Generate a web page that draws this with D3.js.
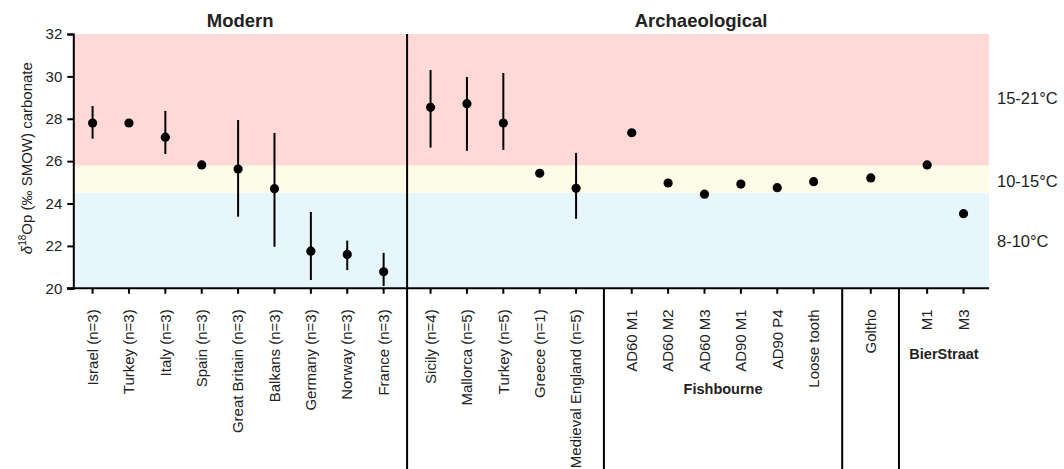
<!DOCTYPE html>
<html>
<head>
<meta charset="utf-8">
<script src="https://cdn.jsdelivr.net/npm/d3@7"></script>
<style>
  html, body { margin: 0; padding: 0; background: #fff; }
  svg { display: block; font-family: "Liberation Sans", Arial, sans-serif; }
</style>
</head>
<body>
<svg id="chart" width="1064" height="469"></svg>
<script>
// ---- data ----
const categories = [
  "Israel (n=3)", "Turkey (n=3)", "Italy (n=3)", "Spain (n=3)", "Great Britain (n=3)",
  "Balkans (n=3)", "Germany (n=3)", "Norway (n=3)", "France (n=3)",
  "Sicily (n=4)", "Mallorca (n=5)", "Turkey (n=5)", "Greece (n=1)", "Medieval England (n=5)",
  "AD60 M1", "AD60 M2", "AD60 M3", "AD90 M1", "AD90 P4", "Loose tooth",
  "Goltho",
  "M1", "M3"
];
const groups = [
  "Modern", "Modern", "Modern", "Modern", "Modern", "Modern", "Modern", "Modern", "Modern",
  "Archaeological", "Archaeological", "Archaeological", "Archaeological", "Archaeological",
  "Fishbourne", "Fishbourne", "Fishbourne", "Fishbourne", "Fishbourne", "Fishbourne",
  "Goltho",
  "BierStraat", "BierStraat"
];
const means = [
  27.80, 27.80, 27.13, 25.82, 25.63, 24.70, 21.75, 21.60, 20.78,
  28.54, 28.71, 27.80, 25.43, 24.72,
  27.34, 24.97, 24.44, 24.92, 24.75, 25.03,
  25.21,
  25.82, 23.52
];
const errHigh = [
  28.60, null, 28.37, null, 27.94, 27.33, 23.60, 22.25, 21.67,
  30.30, 29.97, 30.16, null, 26.39,
  null, null, null, null, null, null,
  null,
  null, null
];
const errLow = [
  27.06, null, 26.34, null, 23.38, 21.96, 20.39, 20.86, 20.11,
  26.64, 26.49, 26.53, null, 23.28,
  null, null, null, null, null, null,
  null,
  null, null
];
const yTicks = [20, 22, 24, 26, 28, 30, 32];
const bandBreaks = [20, 24.5, 25.8, 32];
const bandLabels = ["8-10°C", "10-15°C", "15-21°C"];
const headerLabels = ["Modern", "Archaeological"];
const subGroupLabels = ["Fishbourne", "BierStraat"];

// ---- layout ----
const svg = d3.select("#chart");
const plotLeft = 73.3, plotRight = 989, plotTop = 34, plotBottom = 288.3;
const groupGap = { Archaeological: 0.29, Fishbourne: 0.53, Goltho: 0.57, BierStraat: 0.55 };

const slots = [];
let acc = 0;
categories.forEach((c, i) => {
  if (i > 0 && groups[i] !== groups[i - 1]) acc += groupGap[groups[i]];
  slots.push(i + acc);
});

const x = d3.scaleLinear()
  .domain([-0.53, slots[slots.length - 1] + 0.70])
  .range([plotLeft, plotRight]);
const y = d3.scaleLinear().domain([20, 32]).range([plotBottom, plotTop]);

// bands
const bandColors = ["#e7f6fb", "#fdfde7", "#ffd8d8"];
const bands = d3.range(bandLabels.length).map(i => ({
  lo: bandBreaks[i], hi: bandBreaks[i + 1], label: bandLabels[i], color: bandColors[i]
}));
svg.append("g").selectAll("rect").data(bands).join("rect")
  .attr("x", plotLeft)
  .attr("width", plotRight - plotLeft)
  .attr("y", d => y(d.hi))
  .attr("height", d => y(d.lo) - y(d.hi))
  .attr("fill", d => d.color);

// band labels
const bandLabelY = { "15-21°C": 28.95, "10-15°C": 25.05, "8-10°C": 22.2 };
svg.append("g").selectAll("text").data(bands).join("text")
  .attr("x", 997)
  .attr("y", d => y(bandLabelY[d.label]))
  .attr("dy", "0.35em")
  .attr("font-size", 16.5)
  .attr("fill", "#222")
  .text(d => d.label);

// group boundaries
const boundaries = [];
for (let i = 1; i < categories.length; i++) {
  if (groups[i] !== groups[i - 1]) {
    boundaries.push({ pos: (slots[i] + slots[i - 1]) / 2, main: groups[i - 1] === "Modern" });
  }
}
svg.append("g").selectAll("line").data(boundaries).join("line")
  .attr("x1", d => x(d.pos)).attr("x2", d => x(d.pos))
  .attr("y1", d => d.main ? plotTop : plotBottom)
  .attr("y2", 469)
  .attr("stroke", "#000").attr("stroke-width", 2);

// y axis
const yAxis = svg.append("g")
  .attr("transform", `translate(${plotLeft},0)`)
  .call(d3.axisLeft(y).tickValues(yTicks).tickSize(6).tickPadding(5).tickFormat(d3.format("d")));
yAxis.select(".domain").attr("stroke-width", 2);
yAxis.selectAll(".tick line").attr("stroke-width", 2);
yAxis.selectAll("text").attr("font-size", 15).attr("fill", "#222")
  .attr("font-family", "Liberation Sans, Arial, sans-serif");

// x axis
const xAxisG = svg.append("g").attr("transform", `translate(0,${plotBottom})`);
xAxisG.append("line")
  .attr("x1", plotLeft - 6.5).attr("x2", plotRight)
  .attr("stroke", "#000").attr("stroke-width", 2);
xAxisG.selectAll("line.tick").data(categories).join("line")
  .attr("class", "tick")
  .attr("x1", (d, i) => x(slots[i])).attr("x2", (d, i) => x(slots[i]))
  .attr("y1", 0).attr("y2", 5.5)
  .attr("stroke", "#000").attr("stroke-width", 2);
xAxisG.selectAll("text").data(categories).join("text")
  .attr("transform", (d, i) => `translate(${x(slots[i])},21) rotate(-90)`)
  .attr("text-anchor", "end")
  .attr("dy", "0.35em")
  .attr("font-size", 15)
  .attr("fill", "#222")
  .text(d => d);

// y label
const yl = svg.append("text")
  .attr("transform", `translate(27,${(plotTop + plotBottom) / 2 - 3}) rotate(-90)`)
  .attr("text-anchor", "middle")
  .attr("dy", "0.35em")
  .attr("font-size", 15)
  .attr("fill", "#222");
yl.append("tspan").attr("font-style", "italic").text("δ");
yl.append("tspan").attr("font-size", 10).attr("dy", "-0.6em").text("18");
yl.append("tspan").attr("dy", "0.4em").text("Op (‰ SMOW) carbonate");

// headers
const modernEnd = x(boundaries[0].pos);
svg.append("g").selectAll("text").data(headerLabels).join("text")
  .attr("x", (d, i) => i === 0 ? (plotLeft + modernEnd) / 2 : (modernEnd + plotRight) / 2 + 3)
  .attr("y", 27)
  .attr("text-anchor", "middle")
  .attr("font-size", 18.5)
  .attr("font-weight", "bold")
  .attr("fill", "#222")
  .text(d => d);

// sub-group labels
const subY = { Fishbourne: 394, BierStraat: 359 };
svg.append("g").selectAll("text").data(subGroupLabels).join("text")
  .attr("x", g => {
    const idx = groups.map((gg, i) => gg === g ? i : -1).filter(i => i >= 0);
    const left = x((slots[idx[0]] + (idx[0] > 0 ? slots[idx[0] - 1] : slots[idx[0]])) / 2);
    const last = idx[idx.length - 1];
    const right = last < categories.length - 1 ? x((slots[last] + slots[last + 1]) / 2) : plotRight;
    return (left + right) / 2;
  })
  .attr("y", g => subY[g])
  .attr("text-anchor", "middle")
  .attr("font-size", 14.5)
  .attr("font-weight", "bold")
  .attr("fill", "#222")
  .text(g => g);

// error bars
const pts = categories.map((c, i) => ({ c, i, m: means[i], lo: errLow[i], hi: errHigh[i] }));
svg.append("g").selectAll("line").data(pts.filter(d => d.lo != null)).join("line")
  .attr("x1", d => x(slots[d.i])).attr("x2", d => x(slots[d.i]))
  .attr("y1", d => y(d.hi)).attr("y2", d => y(d.lo))
  .attr("stroke", "#000").attr("stroke-width", 2);

// points
svg.append("g").selectAll("circle").data(pts).join("circle")
  .attr("cx", d => x(slots[d.i]))
  .attr("cy", d => y(d.m))
  .attr("r", 4.6)
  .attr("fill", "#000");
</script>
</body>
</html>
